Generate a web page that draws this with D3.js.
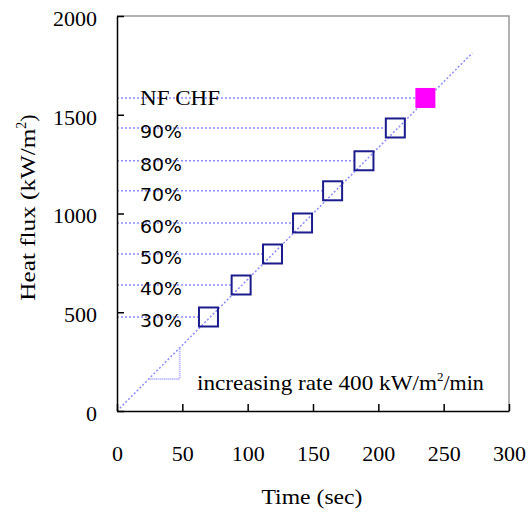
<!DOCTYPE html>
<html>
<head>
<meta charset="utf-8">
<title>Heat flux ramp</title>
<script src="https://d3js.org/d3.v7.min.js"></script>
<style>
body {
	margin: 0;
	background-color: white;
	font-family: "Liberation Serif", serif;
}
svg text {
	fill: black;
}
.frame {
	fill: none;
	stroke: #999;
	stroke-width: 1.5;
}
.axis path, .axis line {
	stroke: black;
	stroke-width: 1.5;
}
.ramp {
	fill: none;
	stroke: #8c8cff;
	stroke-width: 1.5;
	stroke-dasharray: 2 2;
}
.guide {
	stroke: #8c8cff;
	stroke-width: 1.5;
	stroke-dasharray: 2 2;
}
.step {
	fill: none;
	stroke: #a8a8ff;
	stroke-width: 2;
	stroke-dasharray: 1 1;
}
.open {
	fill: none;
	stroke: #1c1c8c;
	stroke-width: 2;
}
.chf {
	fill: #ff00ff;
}
</style>
</head>
<body>
<div id="graph"></div>
<script>
/* globals d3 */
"use strict";

// marker points: fraction of CHF reached, time (s), heat flux (kW/m2)
const levels = ["30%", "40%", "50%", "60%", "70%", "80%", "90%", "NF CHF"];
const times = [70, 95, 119, 142, 165, 189, 213, 236];
const fluxes = [476, 638, 795, 952, 1115, 1267, 1433, 1585];

// ramp line 400 kW/m2/min and its slope triangle
const rampTime = [0, 272];
const rampFlux = [0, 1813];
const stepTime = [24, 48, 48];
const stepFlux = [162, 162, 324];

const xTicks = [0, 50, 100, 150, 200, 250, 300];
const yTicks = [0, 500, 1000, 1500, 2000];

function main()
{
	const margin = {top: 16, left: 117, bottom: 105, right: 20};
	const width = 392, height = 395;

	const x = d3.scaleLinear([0, 300], [0, width]);
	const y = d3.scaleLinear([0, 2000], [height, 0]);

	const svg = d3.select("#graph")
		.append("svg")
			.attr("width", 529)
			.attr("height", 516)
		.append("g")
			.attr("transform", "translate(" + margin.left + "," + margin.top + ")");

	// grey top / right frame
	svg.append("path")
		.attr("class", "frame")
		.attr("d", "M0,0H" + width + "V" + height);

	const line = d3.line().x(d => x(d[0])).y(d => y(d[1]));

	svg.append("path")
		.attr("class", "ramp")
		.attr("d", line(d3.zip(rampTime, rampFlux)));

	svg.append("path")
		.attr("class", "step")
		.attr("d", line(d3.zip(stepTime, stepFlux)));

	const pts = levels.map((l, i) => ({label: l, t: times[i], q: fluxes[i]}));
	const sq = 19;
	const last = pts.length - 1;

	// horizontal guides from the axis to each marker
	svg.selectAll("line.guide")
		.data(pts)
		.join("line")
			.attr("class", "guide")
			.attr("x1", 0)
			.attr("x2", d => x(d.t) - sq / 2)
			.attr("y1", d => y(d.q))
			.attr("y2", d => y(d.q));

	svg.selectAll("text.level")
		.data(pts)
		.join("text")
			.attr("class", "level")
			.attr("x", 23)
			.attr("y", (d, i) => y(d.q) + (i === last ? 7 : 10))
			.style("font-family", (d, i) => i === last ? "'Liberation Serif', serif" : "'DejaVu Sans', sans-serif")
			.style("font-size", (d, i) => i === last ? "22px" : "17px")
			.attr("textLength", (d, i) => i === last ? 80 : 42)
			.attr("lengthAdjust", "spacingAndGlyphs")
			.text(d => d.label);

	svg.selectAll("rect.open")
		.data(pts.slice(0, -1))
		.join("rect")
			.attr("class", "open")
			.attr("x", d => x(d.t) - sq / 2)
			.attr("y", d => y(d.q) - sq / 2)
			.attr("width", sq)
			.attr("height", sq);

	svg.selectAll("rect.chf")
		.data(pts.slice(-1))
		.join("rect")
			.attr("class", "chf")
			.attr("x", d => x(d.t) - 10)
			.attr("y", d => y(d.q) - 10)
			.attr("width", 20)
			.attr("height", 20);

	// axes, ticks pointing inward
	const fmt = d3.format("d");
	const xAxis = svg.append("g")
		.attr("class", "axis")
		.attr("transform", "translate(0," + height + ")")
		.call(d3.axisBottom(x).tickValues(xTicks).tickFormat(fmt)
			.tickSizeInner(-7).tickSizeOuter(0).tickPadding(34));
	const yAxis = svg.append("g")
		.attr("class", "axis")
		.call(d3.axisLeft(y).tickValues(yTicks).tickFormat(fmt)
			.tickSizeInner(-7).tickSizeOuter(0).tickPadding(20));
	for (const g of [xAxis, yAxis])
		g.attr("font-family", "'Liberation Serif', serif")
			.attr("font-size", 22);
	yAxis.selectAll("text").attr("dy", "0.42em");

	svg.append("text")
		.attr("x", 80)
		.attr("y", height - 21)
		.style("font-size", "22px")
		.html("<tspan textLength='240' lengthAdjust='spacingAndGlyphs'>increasing rate 400 kW/m</tspan>" +
			"<tspan dy='-9' font-size='13'>2</tspan><tspan dy='9'>/min</tspan>");

	svg.append("text")
		.attr("x", width / 2 - 1)
		.attr("y", height + 93)
		.attr("text-anchor", "middle")
		.attr("textLength", 101)
		.attr("lengthAdjust", "spacingAndGlyphs")
		.style("font-size", "22px")
		.text("Time (sec)");

	svg.append("text")
		.attr("transform", "translate(-82," + (height / 2 - 6) + ") rotate(-90)")
		.attr("text-anchor", "middle")
		.style("font-size", "22px")
		.html("<tspan textLength='172' lengthAdjust='spacingAndGlyphs'>Heat flux (kW/m</tspan>" +
			"<tspan dy='-9' font-size='14'>2</tspan><tspan dy='9'>)</tspan>");
}
main();
</script>
</body>
</html>
